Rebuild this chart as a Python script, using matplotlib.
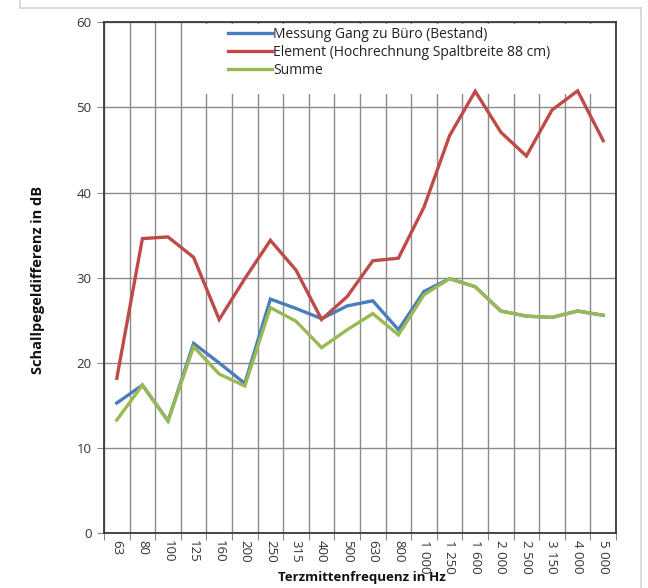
import matplotlib
matplotlib.use("Agg")
import matplotlib.pyplot as plt
from matplotlib.patches import Rectangle
from matplotlib.lines import Line2D

categories = ["63", "80", "100", "125", "160", "200", "250", "315", "400", "500",
              "630", "800", "1 000", "1 250", "1 600", "2 000", "2 500", "3 150", "4 000", "5 000"]
messung = [15.3, 17.4, 13.2, 22.3, 20.0, 17.6, 27.5, 26.4, 25.2, 26.7,
           27.3, 23.9, 28.4, 29.9, 28.95, 26.1, 25.5, 25.35, 26.1, 25.6]
element = [18.2, 34.6, 34.8, 32.4, 25.1, 29.9, 34.4, 30.9, 25.1, 27.8,
           32.0, 32.3, 38.3, 46.7, 51.9, 47.1, 44.3, 49.7, 51.95, 46.1]
summe = [13.3, 17.4, 13.2, 21.9, 18.7, 17.3, 26.5, 24.9, 21.8, 23.9,
         25.8, 23.3, 28.0, 29.9, 28.95, 26.1, 25.5, 25.35, 26.1, 25.6]
labels = ["Messung Gang zu Büro (Bestand)",
          "Element (Hochrechnung Spaltbreite 88 cm)",
          "Summe"]
colors = ["#4A7EBB", "#BE4B48", "#98B954"]
yticks = [0, 10, 20, 30, 40, 50, 60]

plt.rcParams['font.family'] = ['Open Sans', 'DejaVu Sans']

W, H = 648, 588
fig = plt.figure(figsize=(W / 100, H / 100), dpi=100)
fig.patch.set_facecolor("white")

# outer light border
for xs, ys in [([19.5, 19.5], [0, 7.5]), ([19.5, 641], [7.5, 7.5]), ([641, 641], [7.5, 588])]:
    fig.add_artist(Line2D([x / W for x in xs], [1 - y / H for y in ys],
                          color="#d4d4d4", lw=1.2, transform=fig.transFigure))

left, right, top, bottom = 104, 616, 22.3, 533.3
ax = fig.add_axes([left / W, 1 - bottom / H, (right - left) / W, (bottom - top) / H])

x = list(range(len(categories)))
for vals, lab, c in zip([messung, element, summe], labels, colors):
    ax.plot(x, vals, color=c, lw=2.4, label=lab, solid_joinstyle="miter", zorder=3)

ax.set_xlim(-0.5, len(categories) - 0.5)
ax.set_ylim(0, 60)

# horizontal grid
ax.set_yticks(yticks)
ax.set_yticklabels([str(v) for v in yticks], fontsize=9.5, color="#333333")
ax.yaxis.grid(True, color="#8a8a8a", lw=1.0)
# vertical grid at category boundaries
bounds = [i + 0.5 for i in range(-1, len(categories))]
ax.set_xticks(bounds)
ax.set_xticklabels([""] * len(bounds))
ax.set_xticks(x, minor=True)
ax.set_xticklabels(categories, minor=True, rotation=270, fontsize=9.5, color="#333333",
                   va="top", ha="center")
ax.xaxis.grid(True, which="major", color="#8a8a8a", lw=1.0)
ax.tick_params(axis="x", which="major", length=5, color="#8a8a8a", direction="out")
ax.tick_params(axis="x", which="minor", length=0, pad=5)
ax.tick_params(axis="y", length=5, color="#8a8a8a", direction="out", pad=4)
ax.set_axisbelow(True)

for s in ax.spines.values():
    s.set_color("#3a3a3a")
    s.set_linewidth(1.3)

# white legend area
rx0 = (195 - left) / (right - left)
rx1 = (613 - left) / (right - left)
ry0 = (bottom - 94) / (bottom - top)
ry1 = (bottom - 23.8) / (bottom - top)
ax.add_patch(Rectangle((rx0, ry0), rx1 - rx0, ry1 - ry0, transform=ax.transAxes,
                       facecolor="white", edgecolor="none", zorder=2))
leg = ax.legend(loc="upper left", bbox_to_anchor=(228 / W, 1 - 27 / H),
                bbox_transform=fig.transFigure, frameon=False, fontsize=10,
                borderpad=0, borderaxespad=0, handlelength=3.2, handletextpad=0.05,
                labelspacing=0.2)
for t in leg.get_texts():
    t.set_color("#222222")
leg.set_zorder(5)

fig.text(38 / W, 1 - 280 / H, "Schallpegeldifferenz in dB", rotation=90, fontsize=10.5,
         fontweight="bold", ha="center", va="center", color="#111111")
fig.text(362 / W, 1 - 578 / H, "Terzmittenfrequenz in Hz", fontsize=9.5, fontweight="bold",
         ha="center", va="center", color="#111111")

fig.savefig("out.png", dpi=100, facecolor="white")
